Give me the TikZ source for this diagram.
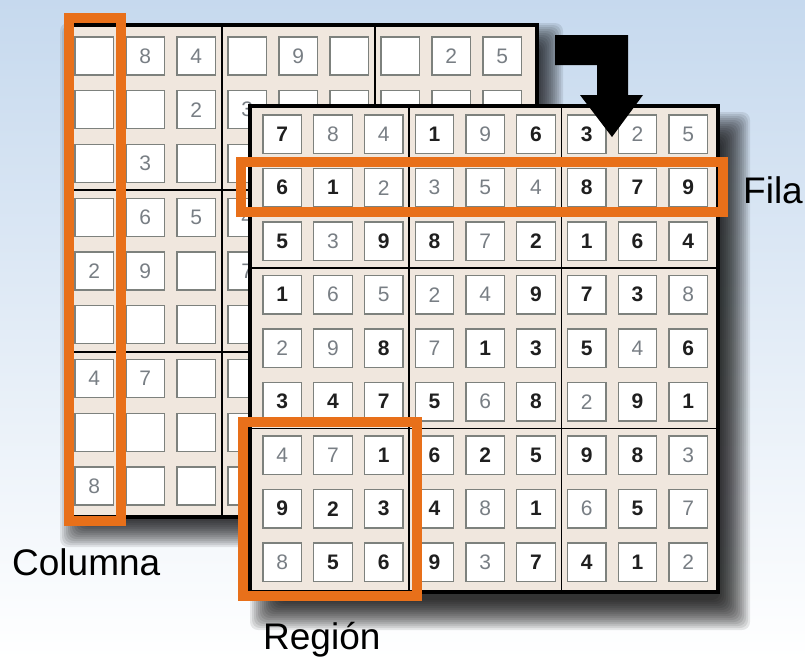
\documentclass[tikz,border=0pt]{standalone}
\usepackage{fontspec}
\newfontfamily\lsans{Liberation Sans}
\definecolor{orng}{RGB}{232,112,26}
\definecolor{beige}{RGB}{240,231,222}
\definecolor{cellline}{RGB}{125,129,125}
\definecolor{givengray}{RGB}{120,126,132}
\definecolor{skytop}{RGB}{198,217,238}
\definecolor{skymid}{RGB}{233,241,249}
\newcommand\softshadow[4]{%
  \foreach \k in {0,...,15}{%
    \fill[black,opacity=0.09,rounded corners=8pt]
      ({#1-16+2*\k},{#2-16+2*\k}) rectangle ({#3+16-2*\k},{#4+16-2*\k});
  }}
\begin{document}
\begin{tikzpicture}[x=1pt,y=-1pt,
  cellbox/.style={draw=cellline,fill=white,line width=1.4pt},
  boxline/.style={line width=1.7pt,draw=black},
  frame/.style={line width=3.8pt,draw=black},
  orangebox/.style={draw=orng,line width=10pt},
  digs/.style={font=\lsans\bfseries\fontsize{21}{21}\selectfont,text=black!88,inner sep=0pt},
  digg/.style={font=\lsans\fontsize{21}{21}\selectfont,text=givengray,inner sep=0pt},
  lbl/.style={font=\lsans\fontsize{37}{40}\selectfont,text=black,inner sep=0pt,anchor=base west}]
\useasboundingbox (0,0) rectangle (805,659);
% background
\shade[top color=skytop,middle color=skymid,bottom color=white] (0,0) rectangle (805,659);
% ---------- back grid ----------
\softshadow{76}{39}{547}{531}
\fill[beige] (66,25) rectangle (537,517);
\foreach \c in {0,...,8}{\foreach \r in {0,...,8}{%
  \draw[cellbox] ({75+51*\c},{37+53.75*\r}) rectangle ++(38.5,38);}}
\draw[boxline] (222,25) -- (222,517);
\draw[boxline] (375,25) -- (375,517);
\draw[boxline] (66,190) -- (537,190);
\draw[boxline] (66,352) -- (537,352);
\draw[frame] (66,25) rectangle (537,517);
\foreach \r/\c/\d in {0/1/8,0/2/4,0/4/9,0/7/2,0/8/5,1/2/2,1/3/3,2/1/3,3/1/6,3/2/5,3/3/4,4/0/2,4/1/9,4/3/7,6/0/4,6/1/7,8/0/8}{%
  \node[digg] (b-\r-\c) at ({75+51*\c+19.25},{37+53.75*\r+19}) {\d};}
% column highlight
\draw[orangebox] (69,18) rectangle (121,521);
% ---------- front grid ----------
\softshadow{266}{128}{734}{614}
\fill[beige] (250,106) rectangle (718,592);
\foreach \c in {0,...,8}{\foreach \r in {0,...,8}{%
  \draw[cellbox] ({263+50.75*\c},{115+53.5*\r}) rectangle ++(38.5,38.5);}}
\draw[boxline] (409,106) -- (409,592);
\draw[boxline] (561.5,106) -- (561.5,592);
\draw[boxline] (250,268) -- (718,268);
\draw[boxline] (250,428.5) -- (718,428.5);
\draw[frame] (250,106) rectangle (718,592);
\foreach \r/\row in {%
  0/{7/s,8/g,4/g,1/s,9/g,6/s,3/s,2/g,5/g},
  1/{6/s,1/s,2/g,3/g,5/g,4/g,8/s,7/s,9/s},
  2/{5/s,3/g,9/s,8/s,7/g,2/s,1/s,6/s,4/s},
  3/{1/s,6/g,5/g,2/g,4/g,9/s,7/s,3/s,8/g},
  4/{2/g,9/g,8/s,7/g,1/s,3/s,5/s,4/g,6/s},
  5/{3/s,4/s,7/s,5/s,6/g,8/s,2/g,9/s,1/s},
  6/{4/g,7/g,1/s,6/s,2/s,5/s,9/s,8/s,3/g},
  7/{9/s,2/s,3/s,4/s,8/g,1/s,6/g,5/s,7/g},
  8/{8/g,5/s,6/s,9/s,3/g,7/s,4/s,1/s,2/g}}{%
  \foreach \d/\t [count=\c from 0] in \row {%
    \node[dig\t] (f-\r-\c) at ({263+50.75*\c+19.25},{115+53.5*\r+19.25}) {\d};}}
% row and region highlights
\draw[orangebox] (241,162) rectangle (723,212);
\draw[orangebox] (243,422) rectangle (417,596);
% bent arrow
\fill[black] (555,35) -- (628,35) -- (628,95) -- (643,95) -- (612,137) -- (580,95)
  -- (597,95) -- (597,65) -- (555,65) -- cycle;
% labels
\node[lbl] (fila) at (743,203) {Fila};
\node[lbl] (columna) at (12,575) {Columna};
\node[lbl] (region) at (263,649) {Región};
\end{tikzpicture}
\end{document}
